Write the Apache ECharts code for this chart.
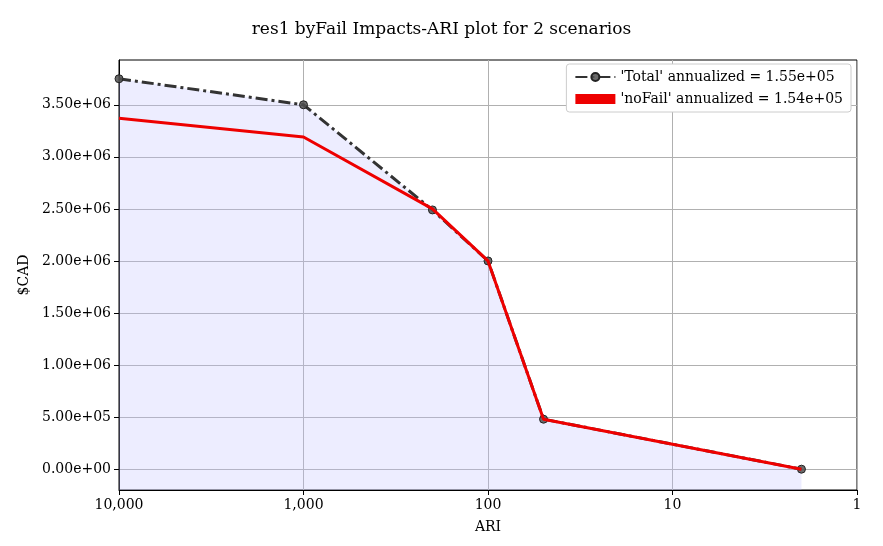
<!DOCTYPE html>
<html><head><meta charset="utf-8">
<script src="https://cdn.jsdelivr.net/npm/echarts@6/dist/echarts.min.js"></script>
<style>html,body{margin:0;background:#fff}#c{width:883px;height:546px}</style>
</head><body><div id="c"></div>
<script>
const ari = [10000, 1000, 200, 100, 50, 2];
const totalVals = [3.75e6, 3.5e6, 2.49e6, 2.0e6, 4.8e5, 0];
const noFailVals = [3.37e6, 3.19e6, 2.5e6, 2.0e6, 4.8e5, 0];
const yTicks = [0, 5e5, 1e6, 1.5e6, 2e6, 2.5e6, 3e6, 3.5e6];
const xLabels = {1: '1', 10: '10', 100: '100', 1000: '1,000', 10000: '10,000'};
const font = 'DejaVu Serif';

const chart = echarts.init(document.getElementById('c'));
chart.setOption({
  textStyle: {fontFamily: font},
  title: {text: 'res1 byFail Impacts-ARI plot for 2 scenarios', left: 'center', top: 16,
    textStyle: {fontFamily: font, fontSize: 17, fontWeight: 'normal', color: '#000'}},
  grid: {left: 119, right: 26, top: 60, bottom: 56, show: true, borderColor: '#000', borderWidth: 1},
  legend: {right: 32, top: 64, orient: 'vertical', itemWidth: 40, itemHeight: 10, itemGap: 8,
    backgroundColor: '#fff', borderColor: '#ccc', borderWidth: 1, borderRadius: 3, padding: [6, 8],
    textStyle: {fontFamily: font, fontSize: 14, color: '#000'},
    data: [{name: "'Total' annualized = 1.55e+05"},
      {name: "'noFail' annualized = 1.54e+05", icon: 'rect', itemStyle: {color: '#ee0000'}}]},
  xAxis: {type: 'log', logBase: 10, min: 1, max: 10000, inverse: true,
    name: 'ARI', nameLocation: 'middle', nameGap: 30, nameTextStyle: {fontFamily: font, fontSize: 14, color: '#000'},
    axisLine: {show: true, onZero: false, lineStyle: {color: '#000'}},
    axisTick: {show: true, inside: false, length: 5, lineStyle: {color: '#000'}},
    axisLabel: {color: '#000', fontSize: 14, fontFamily: font, formatter: v => xLabels[Math.round(v)] || ''},
    splitLine: {show: true, lineStyle: {color: '#b0b0b0'}}},
  yAxis: {type: 'value', min: -2e5, max: 3.93e6,
    name: '$CAD', nameLocation: 'middle', nameGap: 84, nameTextStyle: {fontFamily: font, fontSize: 14, color: '#000'},
    axisLine: {show: true, onZero: false, lineStyle: {color: '#000'}},
    axisTick: {show: true, length: 5, customValues: yTicks, lineStyle: {color: '#000'}},
    axisLabel: {color: '#000', fontSize: 14, fontFamily: font, customValues: yTicks,
      formatter: v => { const s = v.toExponential(2); const [m, e] = s.split('e');
        const n = parseInt(e); return m + 'e' + (n < 0 ? '-' : '+') + String(Math.abs(n)).padStart(2, '0'); }},
    splitLine: {show: true, lineStyle: {color: '#b0b0b0'}}},
  series: [
    {name: "'Total' annualized = 1.55e+05", type: 'line', data: ari.map((a, i) => [a, totalVals[i]]),
      symbol: 'circle', symbolSize: 8,
      itemStyle: {color: 'rgba(80,80,80,0.85)', borderColor: '#222', borderWidth: 1},
      lineStyle: {color: '#333', width: 3, type: [12, 4, 3, 4]},
      areaStyle: {origin: 'start', color: 'rgba(190,190,255,0.4)'}, z: 2},
    {name: "'noFail' annualized = 1.54e+05", type: 'line', data: ari.map((a, i) => [a, noFailVals[i]]),
      symbol: 'none', itemStyle: {color: '#ee0000'}, lineStyle: {color: '#ee0000', width: 3}, z: 3}
  ]
});
</script></body></html>
